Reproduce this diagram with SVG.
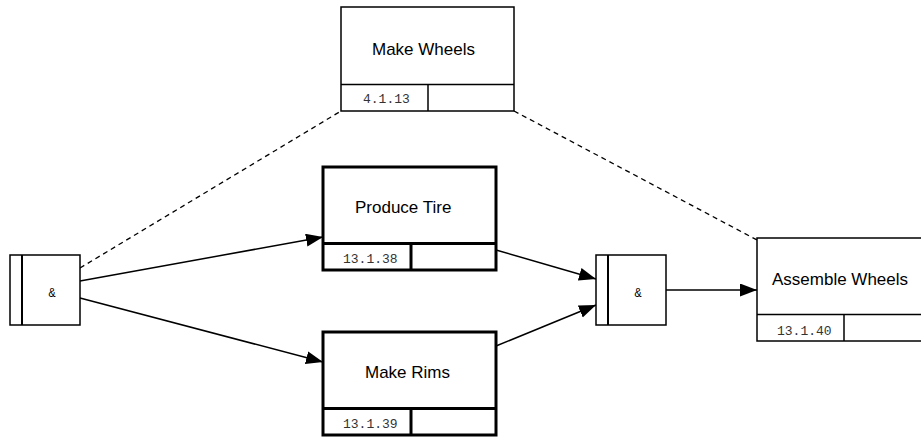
<svg xmlns="http://www.w3.org/2000/svg" width="921" height="437" viewBox="0 0 921 437">
<style>
.box{fill:#fff;stroke:#000;stroke-width:1.5}
.thick{fill:#fff;stroke:#000;stroke-width:3}
.title{font-family:"Liberation Sans",Arial,sans-serif;font-size:17px;fill:#000}
.code{font-family:"Liberation Mono","Courier New",monospace;font-size:13px;fill:#333}
.amp{font-family:"Liberation Mono","Courier New",monospace;font-size:12px;fill:#000;text-anchor:middle}
.edge{fill:none;stroke:#000;stroke-width:1.5}
.dash{fill:none;stroke:#000;stroke-width:1.3;stroke-dasharray:5 4}
</style>
<defs>
<marker id="arr" markerUnits="userSpaceOnUse" markerWidth="18" markerHeight="14" refX="17" refY="6.5" orient="auto">
<path d="M0,0 L17,6.5 L0,13 Z" fill="#000"/>
</marker>
</defs>
<g id="connectors">
<line class="dash" x1="80" y1="268" x2="341" y2="111"/>
<line class="dash" x1="514" y1="111" x2="757" y2="240"/>
<line class="edge" x1="80" y1="281" x2="323" y2="237" marker-end="url(#arr)"/>
<line class="edge" x1="80" y1="298" x2="323" y2="362" marker-end="url(#arr)"/>
<line class="edge" x1="496" y1="250" x2="596" y2="279" marker-end="url(#arr)"/>
<line class="edge" x1="496" y1="346" x2="596" y2="305" marker-end="url(#arr)"/>
<line class="edge" x1="666" y1="290" x2="757" y2="290" marker-end="url(#arr)"/>
</g>
<g id="make-wheels">
<rect class="box" x="341" y="7" width="173" height="104"/>
<line class="box" x1="341" y1="84.5" x2="514" y2="84.5"/>
<line class="box" x1="428" y1="84.5" x2="428" y2="111"/>
<text class="title" x="372" y="55">Make Wheels</text>
<text class="code" x="363" y="103">4.1.13</text>
</g>
<g id="produce-tire">
<rect class="thick" x="323" y="167" width="173" height="103"/>
<line class="thick" x1="323" y1="243.5" x2="496" y2="243.5"/>
<line class="thick" x1="411" y1="243.5" x2="411" y2="270"/>
<text class="title" x="355" y="213">Produce Tire</text>
<text class="code" x="343" y="263">13.1.38</text>
</g>
<g id="make-rims">
<rect class="thick" x="323" y="332" width="173" height="103"/>
<line class="thick" x1="323" y1="408.5" x2="496" y2="408.5"/>
<line class="thick" x1="411" y1="408.5" x2="411" y2="435"/>
<text class="title" x="365" y="378">Make Rims</text>
<text class="code" x="343" y="428">13.1.39</text>
</g>
<g id="and-left">
<rect class="box" x="10" y="255" width="70" height="70"/>
<line x1="22" y1="255" x2="22" y2="325" stroke="#000" stroke-width="2"/>
<text class="amp" x="52" y="297">&amp;</text>
</g>
<g id="and-right">
<rect class="box" x="596" y="255" width="70" height="70"/>
<line x1="608" y1="255" x2="608" y2="325" stroke="#000" stroke-width="2"/>
<text class="amp" x="638" y="297">&amp;</text>
</g>
<g id="assemble-wheels">
<rect class="box" x="757" y="238" width="180" height="103"/>
<line class="box" x1="757" y1="314.5" x2="937" y2="314.5"/>
<line class="box" x1="844" y1="314.5" x2="844" y2="341"/>
<text class="title" x="772" y="285">Assemble Wheels</text>
<text class="code" x="777" y="335">13.1.40</text>
</g>
</svg>
